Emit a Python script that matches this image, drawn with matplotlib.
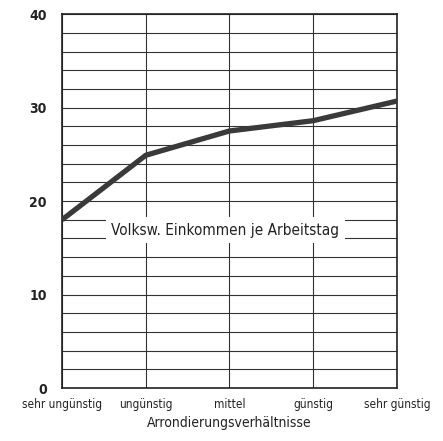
import matplotlib
matplotlib.use('Agg')
import matplotlib.pyplot as plt

categories = ['sehr ungünstig', 'ungünstig', 'mittel', 'günstig', 'sehr günstig']
einkommen = [18.0, 24.9, 27.5, 28.6, 30.7]
y_ticks = [0, 10, 20, 30, 40]

plt.rcParams['font.family'] = 'DejaVu Sans'
plt.rcParams['font.stretch'] = 'condensed'

fig = plt.figure(figsize=(4.43, 4.41), dpi=100)
ax = fig.add_axes([0.14, 0.12, 0.756, 0.848])

x = list(range(len(categories)))
ax.plot(x, einkommen, color='#3a3a3a', lw=3.8, solid_capstyle='butt', zorder=3)

ax.set_xlim(0, len(categories) - 1)
ax.set_ylim(0, 40)
ax.set_yticks(range(0, 41, 2), minor=False)
ax.set_yticklabels([str(v) if v in y_ticks else '' for v in range(0, 41, 2)],
                   fontsize=10, fontweight='bold', color='#222222')
ax.set_xticks(x)
ax.set_xticklabels(categories, fontsize=8.5, color='#222222')
ax.tick_params(axis='y', length=0, pad=11)
ax.tick_params(axis='x', length=0, pad=7)
ax.grid(True, color='#333333', lw=0.8)
for s in ax.spines.values():
    s.set_color('#222222')
    s.set_linewidth(1.2)

ax.text(1.95, 16.9, 'Volksw. Einkommen je Arbeitstag', ha='center', va='center',
        fontsize=11, color='#222222', zorder=4,
        bbox=dict(facecolor='white', edgecolor='none', pad=4))

ax.set_xlabel('Arrondierungsverhältnisse', fontsize=10, color='#222222', labelpad=4)

fig.savefig('out.png', dpi=100)
